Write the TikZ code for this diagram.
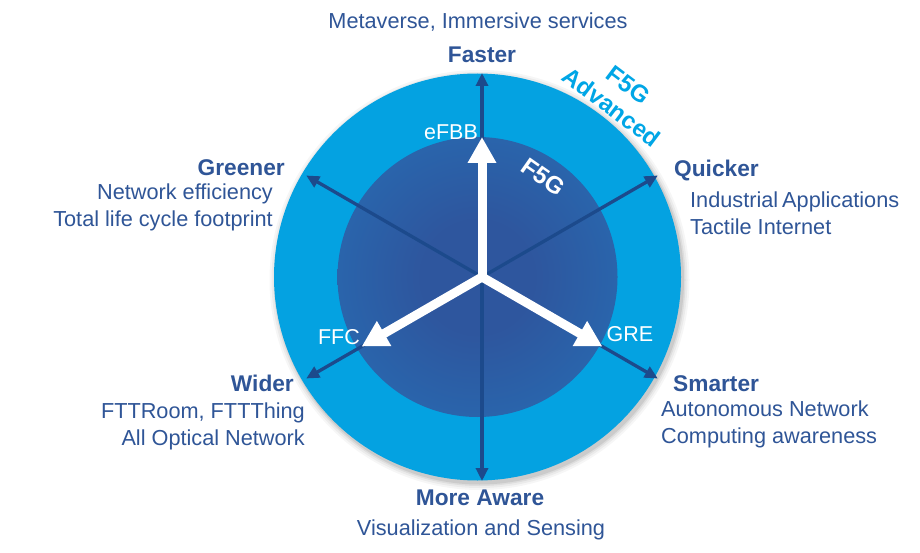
\documentclass[tikz,border=0pt]{standalone}
\usepackage{fontspec}
\setmainfont{Liberation Sans}
\usetikzlibrary{arrows.meta}
\definecolor{outerblue}{RGB}{4,162,225}
\definecolor{innerdark}{RGB}{46,86,158}
\definecolor{inneredge}{RGB}{34,124,194}
\definecolor{navy}{RGB}{28,74,140}
\definecolor{txtblue}{RGB}{47,85,151}
\definecolor{cyantxt}{RGB}{0,166,230}
\pgfdeclareradialshading{innerglow}{\pgfpoint{0bp}{0bp}}{color(0bp)=(innerdark); color(10bp)=(innerdark); color(50bp)=(inneredge); color(72bp)=(inneredge)}
\tikzset{
  lbl/.style={inner sep=0pt, text=txtblue, font=\fontsize{21.7}{26}\selectfont, text height=15.5pt, text depth=4.5pt},
  bld/.style={lbl, font=\fontsize{22.7}{27}\selectfont\bfseries},
  wlbl/.style={inner sep=0pt, text=white, font=\fontsize{21.5}{26}\selectfont},
  navyline/.style={draw=navy, line width=3.3pt, {Triangle[length=13pt,width=12pt]}-{Triangle[length=13pt,width=12pt]}},
  whitearrow/.style={draw=white, line width=9pt, line cap=round, -{Triangle[length=26pt,width=27pt]}},
}
\begin{document}
\begin{tikzpicture}[x=1pt,y=-1pt]
\useasboundingbox (0,0) rectangle (920,553);
\fill[white] (0,0) rectangle (920,553);
% centres
\coordinate (oc) at (477.5,277);
\coordinate (ac) at (482,277);
% shadow
\foreach \r/\o in {210/0.035,208/0.045,206/0.06,204.5/0.08}
  \fill[black, opacity=\o] (oc) ++(2,3) circle[radius=\r pt];
% circles
\fill[outerblue] (oc) circle[radius=203.5pt];
\shade[shading=innerglow] (oc) circle[radius=140pt];
% navy double arrows
\coordinate (pN) at (482,73);
\coordinate (pS) at (482,481);
\coordinate (pNW) at (306.2,175.5);
\coordinate (pSE) at (657.8,378.5);
\coordinate (pNE) at (657.8,175.5);
\coordinate (pSW) at (306.2,378.5);
\draw[navyline] (pN) -- (pS);
\draw[navyline] (pNW) -- (pSE);
\draw[navyline] (pNE) -- (pSW);
% white arrows
\coordinate (wN) at (482,137);
\coordinate (wSW) at (361.6,346.5);
\coordinate (wSE) at (602.4,346.5);
\draw[whitearrow] (ac) -- (wN);
\draw[whitearrow] (ac) -- (wSW);
\draw[whitearrow] (ac) -- (wSE);
% texts
\node[lbl] (meta) at (478,23) {Metaverse, Immersive services};
\node[bld] (faster) at (482,57) {Faster};
\node[bld, anchor=east] (greener) at (285,170) {Greener};
\node[lbl, anchor=east] (neteff) at (273,194) {Network efficiency};
\node[lbl, anchor=east] (total) at (273,221) {Total life cycle footprint};
\node[bld, anchor=west] (quicker) at (674,171) {Quicker};
\node[lbl, anchor=west] (indus) at (690,202) {Industrial\hspace{4pt}Applications};
\node[lbl, anchor=west] (tactile) at (690,229) {Tactile Internet};
\node[bld, anchor=east] (wider) at (294,386) {Wider};
\node[lbl, anchor=east] (fttr) at (305,413) {FTTRoom, FTTThing};
\node[lbl, anchor=east] (allopt) at (305,440) {All Optical Network};
\node[bld, anchor=west] (smarter) at (673,386) {Smarter};
\node[lbl, anchor=west] (auton) at (661,411) {Autonomous Network};
\node[lbl, anchor=west] (comput) at (661,438) {Computing awareness};
\node[bld] (aware) at (480,500) {More Aware};
\node[lbl] (visual) at (481,530) {Visualization and Sensing};
% white labels
\node[wlbl] (efbb) at (451,132) {eFBB};
\node[wlbl] (ffc) at (339,337) {FFC};
\node[wlbl] (gre) at (630,334) {GRE};
\node[inner sep=0pt, text=white, font=\fontsize{24}{28}\selectfont\bfseries, rotate=-35] (f5g) at (543,177) {F5G};
% F5G Advanced
\node[inner sep=0pt, text=cyantxt, align=center, font=\fontsize{24}{28}\selectfont\bfseries, rotate=-37] (adv) at (620,96) {F5G\\Advanced};
\end{tikzpicture}
\end{document}
